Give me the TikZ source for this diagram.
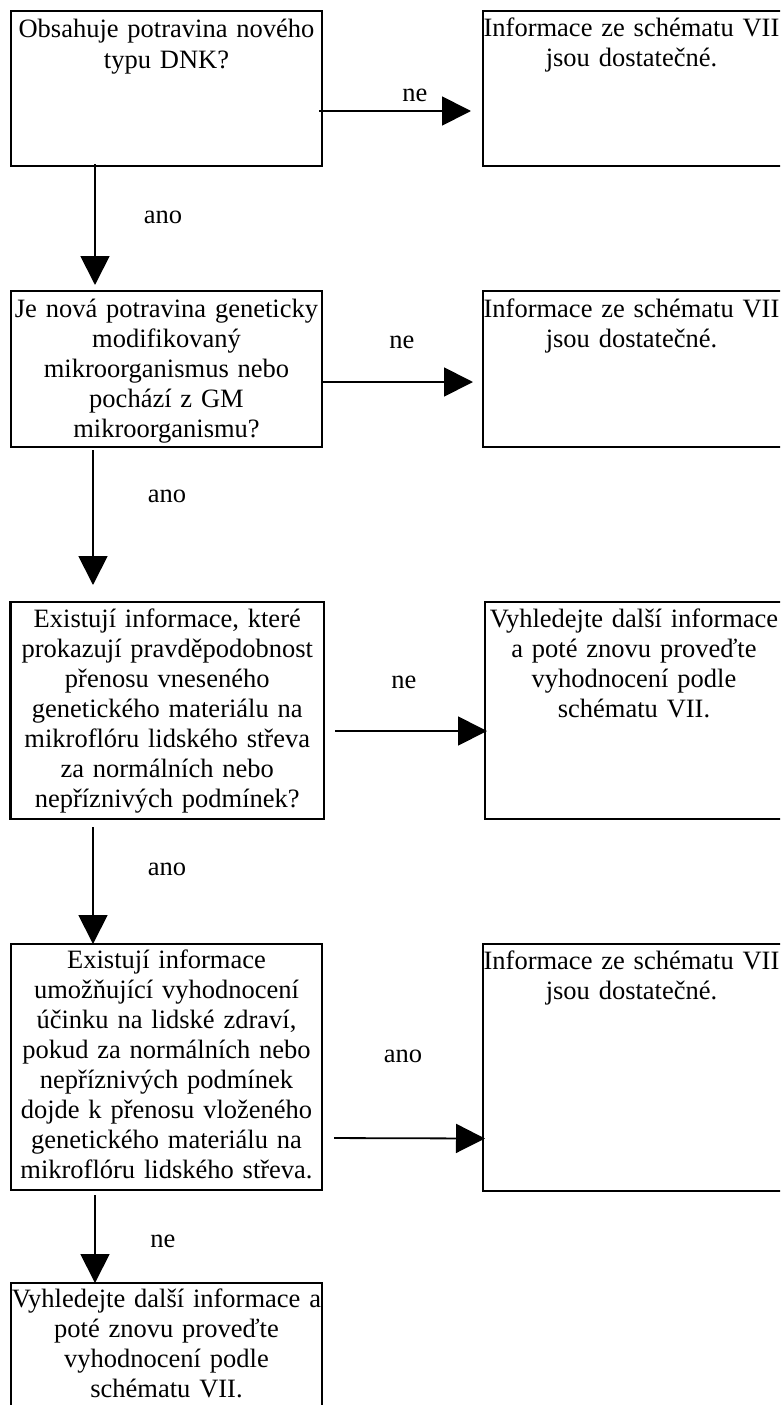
\documentclass[tikz,border=0pt]{standalone}
\usepackage{fontspec}
\setmainfont{Liberation Serif}
\usetikzlibrary{arrows.meta,calc}

\tikzset{
  box/.style={draw, line width=2.8pt, rectangle, inner sep=0pt, outer sep=0pt, anchor=north west},
  txt/.style={text width=360pt, align=center, inner sep=0pt, anchor=base,
              font=\fontsize{26.5}{30}\selectfont},
  lbl/.style={inner sep=0pt, anchor=base, font=\fontsize{26.5}{30}\selectfont},
  arr/.style={line width=1.8pt, -{Triangle[length=29pt,width=29pt]}},
}

\begin{document}
\begin{tikzpicture}[x=1pt,y=-1pt]
\useasboundingbox (0,0) rectangle (780,1405);
\clip (0,0) rectangle (780,1405);

% left column: questions
\node[box, minimum width=311pt, minimum height=155pt] (b1) at (11,11) {};
\node[box, minimum width=311pt, minimum height=156pt] (b2) at (11,291) {};
\node[box, minimum width=313.5pt, minimum height=217pt] (b3) at (10.5,602) {};
\node[box, minimum width=311pt, minimum height=246pt] (b4) at (11,944) {};
\node[box, minimum width=311pt, minimum height=140pt] (b5) at (11,1283) {};

% right column: outcomes
\node[box, minimum width=300pt, minimum height=155pt] (r1) at (483,11) {};
\node[box, minimum width=300pt, minimum height=156pt] (r2) at (483,291) {};
\node[box, minimum width=300pt, minimum height=217pt] (r3) at (485,602) {};
\node[box, minimum width=300pt, minimum height=247pt] (r4) at (483,944) {};

% box texts
\node[txt] (t1) at ($(b1.north)+(0,27)$) {Obsahuje potravina nového\\ typu DNK?};
\node[txt] (t2) at ($(b2.north)+(0,26)$) {Je nová potravina geneticky\\ modifikovaný\\ mikroorganismus nebo\\ pochází z GM\\ mikroorganismu?};
\node[txt] (t3) at ($(b3.north)+(0,25)$) {Existují informace, které\\ prokazují pravděpodobnost\\ přenosu vneseného\\ genetického materiálu na\\ mikroflóru lidského střeva\\ za normálních nebo\\ nepříznivých podmínek?};
\node[txt] (t4) at ($(b4.north)+(0,24)$) {Existují informace\\ umožňující vyhodnocení\\ účinku na lidské zdraví,\\ pokud za normálních nebo\\ nepříznivých podmínek\\ dojde k přenosu vloženého\\ genetického materiálu na\\ mikroflóru lidského střeva.};
\node[txt] (t5) at ($(b5.north)+(0,24)$) {Vyhledejte další informace a\\ poté znovu proveďte\\ vyhodnocení podle\\ schématu VII.};

\node[txt] (u1) at (631.5,37) {Informace ze schématu VII\\ jsou dostatečné.};
\node[txt] (u2) at (631.5,317) {Informace ze schématu VII\\ jsou dostatečné.};
\node[txt] (u3) at (634,627) {Vyhledejte další informace\\ a poté znovu proveďte\\ vyhodnocení podle\\ schématu VII.};
\node[txt] (u4) at (631.5,969) {Informace ze schématu VII\\ jsou dostatečné.};

% horizontal connectors
\draw[arr, shorten <=-3pt, shorten >=12pt] ($(b1.east)+(0,22.5)$) -- ($(r1.west)+(0,22.5)$);
\draw[arr, shorten <=-1pt, shorten >=10pt] ($(b2.east)+(0,13)$) -- ($(r2.west)+(0,13)$);
\draw[arr, shorten <=11pt, shorten >=-2pt] ($(b3.east)+(0,20.5)$) -- ($(r3.west)+(0,20.5)$);
\draw[arr, shorten <=12pt, shorten >=-2pt] ($(b4.east)+(0,71)$) -- ($(r4.west)+(0,71)$);

% vertical connectors
\draw[arr, shorten <=-2pt, shorten >=6pt] ($(b1.south west)+(84,0)$) -- ($(b2.north west)+(84,0)$);
\draw[arr, shorten <=3pt, shorten >=17pt] ($(b2.south west)+(82,0)$) -- ($(b3.north west)+(82.5,0)$);
\draw[arr, shorten <=8pt, shorten >=0pt] ($(b3.south west)+(82.5,0)$) -- ($(b4.north west)+(82,0)$);
\draw[arr, shorten <=5pt, shorten >=0pt] ($(b4.south west)+(84,0)$) -- ($(b5.north west)+(84,0)$);

% connector labels
\node[lbl] (l1) at (415,101) {ne};
\node[lbl] (l2) at (402,348) {ne};
\node[lbl] (l3) at (404,688) {ne};
\node[lbl] (l4) at (403,1062) {ano};
\node[lbl] (l5) at (163,223) {ano};
\node[lbl] (l6) at (167,502) {ano};
\node[lbl] (l7) at (167,875) {ano};
\node[lbl] (l8) at (163,1247) {ne};
\end{tikzpicture}
\end{document}
